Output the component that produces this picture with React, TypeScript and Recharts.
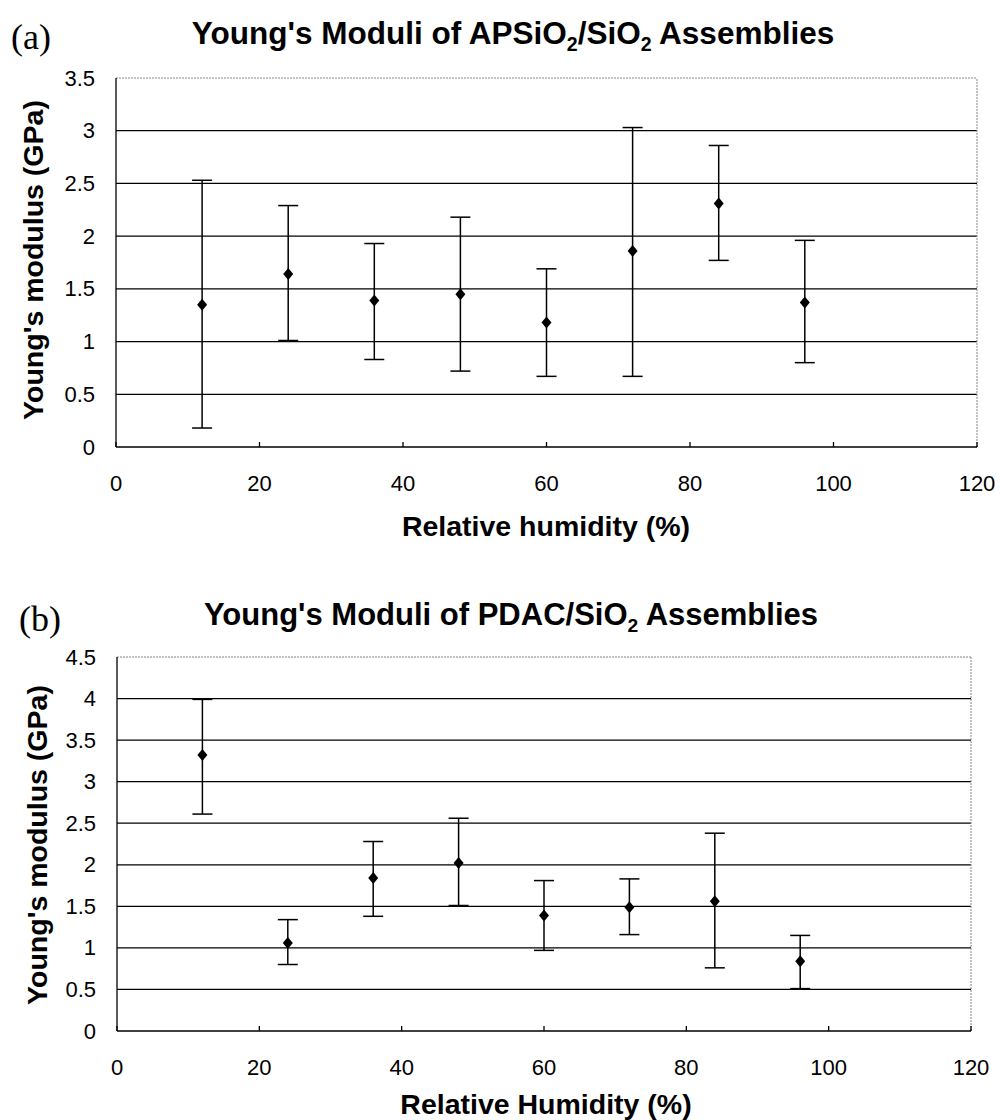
import React from 'react';
import { ScatterChart, Scatter, XAxis, YAxis, CartesianGrid, ErrorBar, ReferenceLine } from 'recharts';

const humidity = [12, 24, 36, 48, 60, 72, 84, 96];
const xTicks = [0, 20, 40, 60, 80, 100, 120];

const meanA = [1.35, 1.64, 1.39, 1.45, 1.18, 1.86, 2.31, 1.37];
const upperA = [2.53, 2.29, 1.93, 2.18, 1.69, 3.03, 2.86, 1.96];
const lowerA = [0.18, 1.01, 0.83, 0.72, 0.67, 0.67, 1.77, 0.80];
const yTicksA = [0, 0.5, 1, 1.5, 2, 2.5, 3, 3.5];

const meanB = [3.32, 1.06, 1.84, 2.02, 1.39, 1.49, 1.56, 0.84];
const upperB = [3.99, 1.34, 2.28, 2.56, 1.81, 1.83, 2.38, 1.15];
const lowerB = [2.61, 0.80, 1.38, 1.51, 0.97, 1.16, 0.76, 0.51];
const yTicksB = [0, 0.5, 1, 1.5, 2, 2.5, 3, 3.5, 4, 4.5];

const build = (mean: number[], up: number[], lo: number[]) =>
  humidity.map((h, i) => ({ rh: h, e: mean[i], err: [mean[i] - lo[i], up[i] - mean[i]] }));

const dataA = build(meanA, upperA, lowerA);
const dataB = build(meanB, upperB, lowerB);

const FONT = '"Liberation Sans", Arial, Helvetica, sans-serif';

const XTick = (props: any) => {
  const { x, y, payload } = props;
  return (
    <g>
      <line x1={x} y1={y} x2={x} y2={y - 5} stroke="#000" strokeWidth={1.3} />
      <text x={x} y={y + 36} textAnchor="middle" dominantBaseline="central" fontFamily={FONT} fontSize={22} fill="#000">
        {payload.value}
      </text>
    </g>
  );
};

const YTick = (props: any) => {
  const { x, y, payload } = props;
  return (
    <text x={x - 21} y={y} textAnchor="end" dominantBaseline="central" fontFamily={FONT} fontSize={22} fill="#000">
      {payload.value}
    </text>
  );
};

const Diamond = (props: any) => {
  const { cx, cy } = props;
  if (cx == null || cy == null) return null;
  return <polygon points={`${cx},${cy - 6} ${cx + 5},${cy} ${cx},${cy + 6} ${cx - 5},${cy}`} fill="#000" />;
};

const Sub = ({ children }: { children: React.ReactNode }) => (
  <span style={{ fontSize: '0.62em', position: 'relative', top: '0.35em', lineHeight: 0 }}>{children}</span>
);

const abs = (s: React.CSSProperties): React.CSSProperties => ({ position: 'absolute', whiteSpace: 'nowrap', ...s });

export default function App() {
  return (
    <div style={{ position: 'absolute', left: 0, top: 0, width: 1001, height: 1120, background: '#fff', overflow: 'hidden' }}>
      {/* Panel (a) */}
      <div style={abs({ left: 0, top: 0 })}>
        <ScatterChart width={1001} height={560} margin={{ top: 78, right: 24, left: 0, bottom: 83 }}>
          <CartesianGrid vertical={false} horizontalValues={[0.5, 1, 1.5, 2, 2.5, 3]} stroke="#000" strokeWidth={1.3} />
          <XAxis type="number" dataKey="rh" domain={[0, 120]} ticks={xTicks} height={30} tickLine={false} tickSize={0} tickMargin={0} tick={<XTick />} axisLine={{ stroke: '#000', strokeWidth: 1.3 }} />
          <YAxis type="number" dataKey="e" domain={[0, 3.5]} ticks={yTicksA} width={116} tickLine={false} tickSize={0} tickMargin={0} tick={<YTick />} axisLine={{ stroke: '#000', strokeWidth: 1.3 }} />
          <ReferenceLine y={3.5} stroke="#888" strokeDasharray="2 1" strokeWidth={1} />
          <ReferenceLine x={120} stroke="#888" strokeDasharray="2 1" strokeWidth={1} />
          <Scatter data={dataA} shape={<Diamond />} isAnimationActive={false} fill="#000">
            <ErrorBar dataKey="err" direction="y" width={10} stroke="#000" strokeWidth={1.5} />
          </Scatter>
        </ScatterChart>
      </div>
      <div style={abs({ left: 11, top: 16, fontFamily: '"Liberation Serif", "Times New Roman", serif', fontSize: 36, lineHeight: '42px' })}>(a)</div>
      <div style={abs({ left: 513, top: 15, transform: 'translateX(-50%)', fontFamily: FONT, fontWeight: 'bold', fontSize: 31.5, lineHeight: '36px' })}>
        Young's Moduli of APSiO<Sub>2</Sub>/SiO<Sub>2</Sub> Assemblies
      </div>
      <div style={abs({ left: 546, top: 510, transform: 'translateX(-50%)', fontFamily: FONT, fontWeight: 'bold', fontSize: 28.5, lineHeight: '33px' })}>
        Relative humidity (%)
      </div>
      <div style={abs({ left: 33, top: 260, transform: 'translate(-50%, -50%) rotate(-90deg)', fontFamily: FONT, fontWeight: 'bold', fontSize: 28.5, lineHeight: '33px' })}>
        Young's modulus (GPa)
      </div>

      {/* Panel (b) */}
      <div style={abs({ left: 0, top: 560 })}>
        <ScatterChart width={1001} height={560} margin={{ top: 97, right: 30, left: 0, bottom: 59 }}>
          <CartesianGrid vertical={false} horizontalValues={[0.5, 1, 1.5, 2, 2.5, 3, 3.5, 4]} stroke="#000" strokeWidth={1.3} />
          <XAxis type="number" dataKey="rh" domain={[0, 120]} ticks={xTicks} height={30} tickLine={false} tickSize={0} tickMargin={0} tick={<XTick />} axisLine={{ stroke: '#000', strokeWidth: 1.3 }} />
          <YAxis type="number" dataKey="e" domain={[0, 4.5]} ticks={yTicksB} width={117} tickLine={false} tickSize={0} tickMargin={0} tick={<YTick />} axisLine={{ stroke: '#000', strokeWidth: 1.3 }} />
          <ReferenceLine y={4.5} stroke="#888" strokeDasharray="2 1" strokeWidth={1} />
          <ReferenceLine x={120} stroke="#888" strokeDasharray="2 1" strokeWidth={1} />
          <Scatter data={dataB} shape={<Diamond />} isAnimationActive={false} fill="#000">
            <ErrorBar dataKey="err" direction="y" width={10} stroke="#000" strokeWidth={1.5} />
          </Scatter>
        </ScatterChart>
      </div>
      <div style={abs({ left: 19, top: 598, fontFamily: '"Liberation Serif", "Times New Roman", serif', fontSize: 36, lineHeight: '42px' })}>(b)</div>
      <div style={abs({ left: 511, top: 597, transform: 'translateX(-50%)', fontFamily: FONT, fontWeight: 'bold', fontSize: 31, lineHeight: '36px' })}>
        Young's Moduli of PDAC/SiO<Sub>2</Sub> Assemblies
      </div>
      <div style={abs({ left: 546, top: 1088, transform: 'translateX(-50%)', fontFamily: FONT, fontWeight: 'bold', fontSize: 28.5, lineHeight: '33px' })}>
        Relative Humidity (%)
      </div>
      <div style={abs({ left: 37, top: 845, transform: 'translate(-50%, -50%) rotate(-90deg)', fontFamily: FONT, fontWeight: 'bold', fontSize: 28.5, lineHeight: '33px' })}>
        Young's modulus (GPa)
      </div>
    </div>
  );
}
